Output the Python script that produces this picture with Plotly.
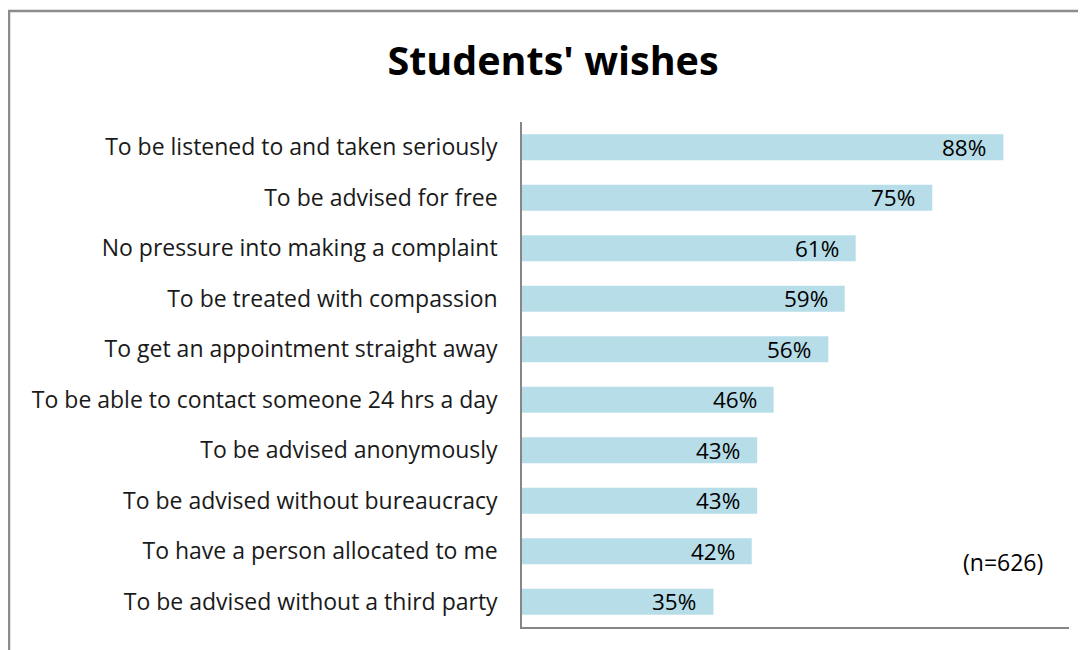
import plotly.graph_objects as go

categories = [
    "To be listened to and taken seriously",
    "To be advised for free",
    "No pressure into making a complaint",
    "To be treated with compassion",
    "To get an appointment straight away",
    "To be able to contact someone 24 hrs a day",
    "To be advised anonymously",
    "To be advised without bureaucracy",
    "To have a person allocated to me",
    "To be advised without a third party",
]
values = [88, 75, 61, 59, 56, 46, 43, 43, 42, 35]
labels = [f"{v}%" for v in values]

OFF = 8  # browser body margin
W, H = 1086 - OFF, 650 - OFF
L, R, T, B = 522 - OFF, 1086 - 1069, 122 - OFF, 650 - 627
pw, ph = W - L - R, H - T - B

FONT = "Open Sans"
bar_color = "#B7DDE8"
axis_color = "#868686"

fig = go.Figure()
fig.add_trace(go.Bar(
    y=categories, x=values, orientation="h",
    marker=dict(color=bar_color, line=dict(width=0)),
    hoverinfo="skip",
))

for c, v, t in zip(categories, values, labels):
    fig.add_annotation(x=v, y=c, xref="x", yref="y", text=t, showarrow=False,
                       xanchor="right", xshift=-15, yshift=0,
                       font=dict(family=FONT, size=22.5, color="#000000"))

fig.add_annotation(x=(1045 - OFF - L) / pw, y=1 - (562 - OFF - T) / ph, xref="paper", yref="paper",
                   text="(n=626)", showarrow=False, xanchor="right", yanchor="middle",
                   font=dict(family=FONT, size=23, color="#000000"))

fig.add_shape(type="rect", xref="paper", yref="paper",
              x0=(9 - OFF - L) / pw, x1=(W + 20 - L) / pw,
              y0=1 - (H + 20 - T) / ph, y1=1 - (11 - OFF - T) / ph,
              line=dict(color="#8C8C8C", width=2.5), fillcolor="rgba(0,0,0,0)", layer="below")

fig.update_layout(
    width=W, height=H,
    margin=dict(l=L, r=R, t=T, b=B, autoexpand=False),
    paper_bgcolor="white", plot_bgcolor="white",
    bargap=0.49,
    showlegend=False,
    title=dict(text="<b>Students' wishes</b>", x=(553 - OFF) / W, xanchor="center",
               y=1 - (61 - OFF) / H, yanchor="middle",
               font=dict(family=FONT, size=39.5, color="#000000")),
    xaxis=dict(range=[0, 100], showgrid=False, zeroline=False, showticklabels=False,
               showline=True, linecolor=axis_color, linewidth=1.5, ticks="", fixedrange=True),
    yaxis=dict(categoryorder="array", categoryarray=categories[::-1], autorange=False,
               range=[-0.5, 9.5],
               showgrid=False, zeroline=False, showline=True, linecolor=axis_color, linewidth=1.5,
               ticks="", ticklabelstandoff=18,
               tickfont=dict(family=FONT, size=23, color="#1a1a1a")),
)

fig.write_html("out.html")
